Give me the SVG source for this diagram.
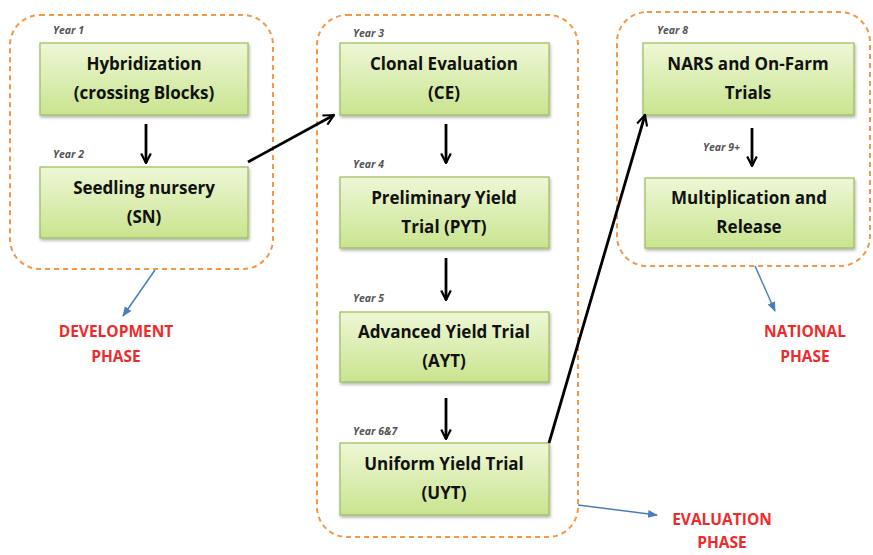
<svg xmlns="http://www.w3.org/2000/svg" width="873" height="555" viewBox="0 0 873 555">
<defs>
<linearGradient id="g" x1="0" y1="0" x2="0" y2="1">
<stop offset="0" stop-color="#eef7d6"/>
<stop offset="1" stop-color="#c9e48f"/>
</linearGradient>
<filter id="sh" x="-10%" y="-10%" width="120%" height="130%">
<feDropShadow dx="1" dy="2" stdDeviation="1.5" flood-color="#000" flood-opacity="0.3"/>
</filter>
<marker id="ab" viewBox="0 0 10 10" refX="9" refY="5" markerWidth="12" markerHeight="12" orient="auto" markerUnits="userSpaceOnUse">
<path d="M1,1 L9,5 L1,9" fill="none" stroke="#000" stroke-width="1.8"/>
</marker>
<marker id="ak" viewBox="0 0 10 10" refX="9" refY="5" markerWidth="13" markerHeight="13" orient="auto" markerUnits="userSpaceOnUse">
<path d="M1,1 L9,5 L1,9" fill="none" stroke="#000" stroke-width="1.6"/>
</marker>
<marker id="bl" viewBox="0 0 10 10" refX="9" refY="5" markerWidth="10" markerHeight="10" orient="auto" markerUnits="userSpaceOnUse">
<path d="M0,1 L10,5 L0,9 Z" fill="#4a7ebb"/>
</marker>
</defs>
<style>
.phase{fill:none;stroke:#f79646;stroke-width:2;stroke-dasharray:5 4}
.box{fill:url(#g);stroke:#9bbb59;stroke-width:1.2;filter:url(#sh)}
.t{font-family:"Open Sans","Liberation Sans",sans-serif;font-weight:bold;font-size:17px;fill:#111;text-anchor:middle}
.yr{font-family:"Open Sans","Liberation Sans",sans-serif;font-style:italic;font-weight:bold;font-size:10.5px;fill:#555}
.red{font-family:"Open Sans","Liberation Sans",sans-serif;font-weight:bold;font-size:15.5px;fill:#ee2b2b;text-anchor:middle}
.k{stroke:#000;stroke-width:2.8;fill:none}
.b{stroke:#4a7ebb;stroke-width:1.5;fill:none}
</style>
<rect width="873" height="555" fill="#fff"/>
<g id="phases">
<rect class="phase" x="10" y="15" width="263" height="254" rx="30"/>
<rect class="phase" x="317" y="15" width="261" height="522" rx="30"/>
<rect class="phase" x="617" y="12" width="253" height="254" rx="30"/>
</g>
<g id="n1"><rect class="box" x="40" y="43" width="208" height="72"/><text class="t" x="144" y="70">Hybridization</text><text class="t" x="144" y="99">(crossing Blocks)</text><text class="yr" x="53" y="34">Year 1</text></g>
<g id="n2"><rect class="box" x="40" y="167" width="208" height="71"/><text class="t" x="144" y="194">Seedling nursery</text><text class="t" x="144" y="223">(SN)</text><text class="yr" x="53" y="158">Year 2</text></g>
<g id="n3"><rect class="box" x="340" y="43" width="209" height="72"/><text class="t" x="444" y="70">Clonal Evaluation</text><text class="t" x="444" y="99">(CE)</text><text class="yr" x="353" y="37">Year 3</text></g>
<g id="n4"><rect class="box" x="340" y="177" width="209" height="71"/><text class="t" x="444" y="204">Preliminary Yield</text><text class="t" x="444" y="233">Trial (PYT)</text><text class="yr" x="353" y="168">Year 4</text></g>
<g id="n5"><rect class="box" x="340" y="312" width="209" height="70"/><text class="t" x="444" y="338">Advanced Yield Trial</text><text class="t" x="444" y="367">(AYT)</text><text class="yr" x="353" y="302">Year 5</text></g>
<g id="n6"><rect class="box" x="340" y="443" width="209" height="72"/><text class="t" x="444" y="470">Uniform Yield Trial</text><text class="t" x="444" y="499">(UYT)</text><text class="yr" x="353" y="435">Year 6&amp;7</text></g>
<g id="n7"><rect class="box" x="643" y="43" width="211" height="72"/><text class="t" x="748" y="70">NARS and On-Farm</text><text class="t" x="748" y="99">Trials</text><text class="yr" x="657" y="34">Year 8</text></g>
<g id="n8"><rect class="box" x="645" y="178" width="209" height="70"/><text class="t" x="749" y="204">Multiplication and</text><text class="t" x="749" y="233">Release</text><text class="yr" x="703" y="151">Year 9+</text></g>
<g id="labels">
<text class="red" x="116" y="337">DEVELOPMENT</text><text class="red" x="116" y="362">PHASE</text>
<text class="red" x="805" y="337">NATIONAL</text><text class="red" x="805" y="362">PHASE</text>
<text class="red" x="722" y="525">EVALUATION</text><text class="red" x="722" y="548">PHASE</text>
</g>
<g id="connectors">
<line class="k" x1="146" y1="124" x2="146" y2="163" marker-end="url(#ab)"/>
<line class="k" x1="446" y1="124" x2="446" y2="163" marker-end="url(#ab)"/>
<line class="k" x1="446" y1="258" x2="446" y2="300" marker-end="url(#ab)"/>
<line class="k" x1="446" y1="398" x2="446" y2="439" marker-end="url(#ab)"/>
<line class="k" x1="752" y1="128" x2="752" y2="166" marker-end="url(#ab)"/>
<line class="k" x1="248" y1="162" x2="334" y2="115" marker-end="url(#ak)"/>
<line class="k" x1="549" y1="443" x2="645" y2="115" marker-end="url(#ak)"/>
<line class="b" x1="155" y1="270" x2="123" y2="316" marker-end="url(#bl)"/>
<line class="b" x1="578" y1="505" x2="657" y2="515" marker-end="url(#bl)"/>
<line class="b" x1="755" y1="266" x2="775" y2="311" marker-end="url(#bl)"/>
</g>
</svg>
